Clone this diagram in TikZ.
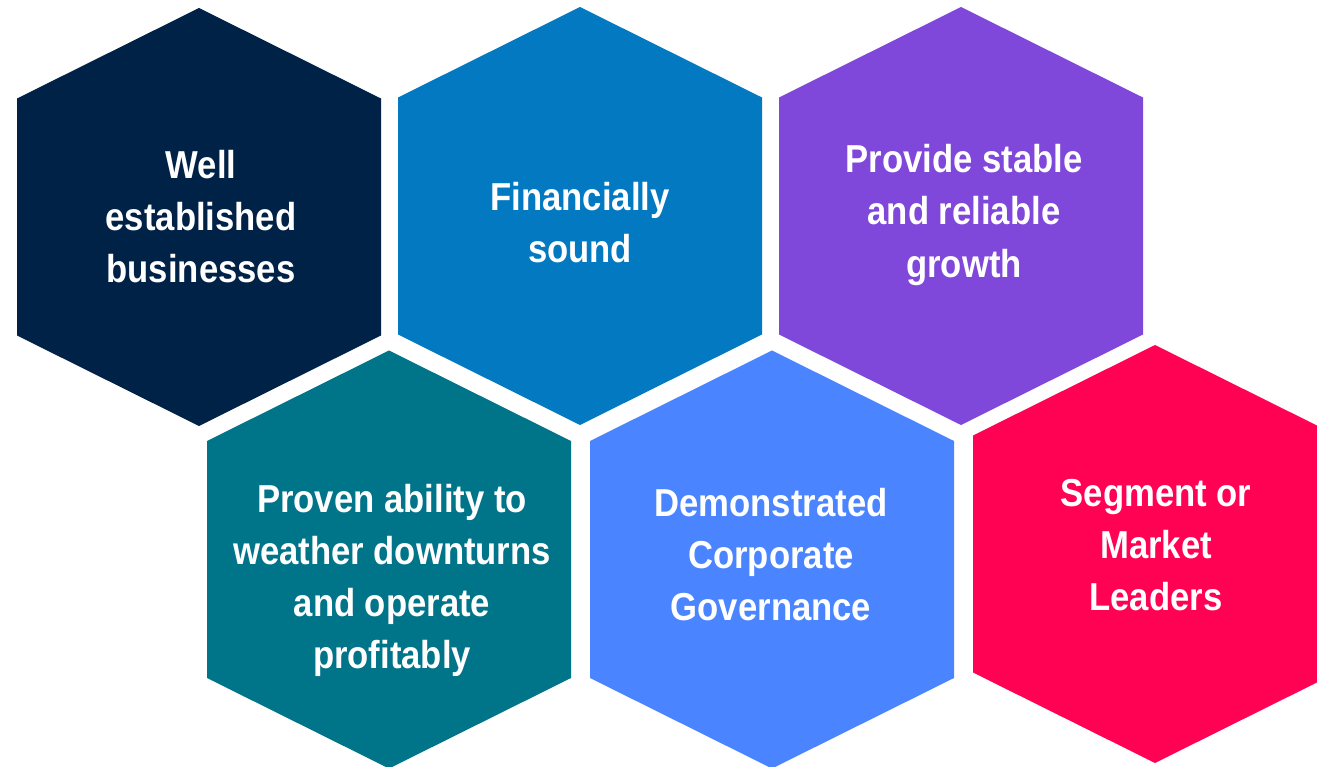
\documentclass[tikz,border=0pt]{standalone}
\usepackage{fontspec}
\setmainfont{Liberation Sans}[FakeStretch=0.89]

\definecolor{hexnavy}{RGB}{0,34,71}
\definecolor{hexblue}{RGB}{2,121,193}
\definecolor{hexpurple}{RGB}{128,71,219}
\definecolor{hexteal}{RGB}{0,117,137}
\definecolor{hexsky}{RGB}{74,133,255}
\definecolor{hexred}{RGB}{255,2,84}

\tikzset{hexlabel/.style={text=white, align=center, inner sep=0pt,
    font={\fontsize{27.7}{37}\selectfont\bfseries}}}

\begin{document}
\begin{tikzpicture}[x=0.025cm, y=-0.025cm]
    \clip (0,0) rectangle (1317,767);

    \fill[hexnavy]   (199,8)   -- +(182,90.5) -- +(182,327.5) -- +(0,418) -- +(-182,327.5) -- +(-182,90.5) -- cycle;
    \fill[hexblue]   (580,7)   -- +(182,90.5) -- +(182,327.5) -- +(0,418) -- +(-182,327.5) -- +(-182,90.5) -- cycle;
    \fill[hexpurple] (961,7)   -- +(182,90.5) -- +(182,327.5) -- +(0,418) -- +(-182,327.5) -- +(-182,90.5) -- cycle;

    \fill[hexteal]   (389,350.5) -- +(182,90.5) -- +(182,327.5) -- +(0,418) -- +(-182,327.5) -- +(-182,90.5) -- cycle;
    \fill[hexsky]    (772,350.5) -- +(182,90.5) -- +(182,327.5) -- +(0,418) -- +(-182,327.5) -- +(-182,90.5) -- cycle;
    \fill[hexred]    (1155,345)  -- +(182,90.5) -- +(182,327.5) -- +(0,418) -- +(-182,327.5) -- +(-182,90.5) -- cycle;

    \node[hexlabel] at (201,217) (established) {Well\\established\\businesses};
    \node[hexlabel] at (580,223) (sound) {Financially\\sound};
    \node[hexlabel] at (964,215) (growth) {Provide stable\\and reliable\\growth};

    \node[hexlabel] at (392,580) (downturns) {Proven ability to\\weather downturns\\and operate\\profitably};
    \node[hexlabel] at (771,555) (governance) {Demonstrated\\Corporate\\Governance};
    \node[hexlabel] at (1156,545) (leaders) {Segment or\\Market\\Leaders};

\end{tikzpicture}
\end{document}
